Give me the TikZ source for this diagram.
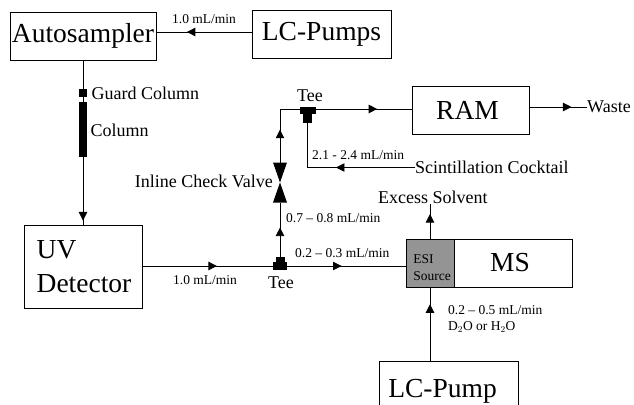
\documentclass[tikz,border=0pt]{standalone}
\usepackage{fontspec}
\setmainfont{Liberation Serif}
\usepackage{tikz}
\usetikzlibrary{positioning,arrows.meta,decorations.markings,shapes.geometric}

\begin{document}
\begin{tikzpicture}[
  x=1pt, y=-1pt,
  box/.style={draw, rectangle, inner sep=0pt, line width=0.9pt, font=\fontsize{27.5}{33.5}\selectfont},
  lab/.style={inner sep=0pt, anchor=west, font=\fontsize{18}{20}\selectfont},
  rate/.style={inner sep=0pt, anchor=west, font=\fontsize{13.5}{16}\selectfont},
  solid part/.style={fill=black, draw=none, inner sep=0pt, outer sep=0pt},
  valve/.style={isosceles triangle, isosceles triangle stretches, fill=black, draw=none, inner sep=0pt, outer sep=0pt, minimum width=14pt, minimum height=20pt},
  line/.style={line width=0.8pt},
  arr/.style={line width=0.8pt, postaction={decorate, decoration={markings, mark=at position #1 with {\arrow{Triangle[length=8.5pt,width=8.5pt]}}}}}
]
\useasboundingbox (0,0) rectangle (634,404);
\node[box, minimum width=146pt, minimum height=48pt] (auto) at (83,36) {Autosampler};
\node[box, minimum width=139pt, minimum height=48pt] (pumps) at (321.5,34) {LC-Pumps};
\node[box, minimum width=117pt, minimum height=48pt] (ram) at (470.5,110) {\hspace*{-6pt}RAM};
\node[box, minimum width=118pt, minimum height=83pt, align=left] (det) at (83,266.5) {\hspace*{2pt}UV\\\hspace*{2pt}Detector};
\node[box, minimum width=118pt, minimum height=48pt] (ms) at (513,263) {\hspace*{-6pt}\raisebox{-3pt}{MS}};
\node[draw, fill=black!42, line width=0.9pt, inner sep=0pt, minimum width=48pt, minimum height=48pt] (esi) at (430,263) {};
\node[inner sep=0pt, align=left, font=\fontsize{13.5}{17}\selectfont] (esitxt) at (432,268) {ESI\\Source};
\node[box, minimum width=139pt, minimum height=60pt] (pump) at (448.5,391) {\hspace*{-12pt}\raisebox{2pt}{LC-Pump}};
% column parts
\node[solid part, minimum width=8pt, minimum height=8pt] (guard) at (83,93) {};
\node[solid part, minimum width=8pt, minimum height=55pt] (col) at (83,129.5) {};
% upper tee
\node[solid part, minimum width=16pt, minimum height=7pt] (teeup) at (308,110.5) {};
\node[solid part, minimum width=9pt, minimum height=9pt] (teeupstem) at (307.5,118.5) {};
% lower tee
\node[solid part, minimum width=14pt, minimum height=8pt] (teelow) at (280,266) {};
\node[solid part, minimum width=9pt, minimum height=5pt] (teelowstem) at (280,259.5) {};
% check valve
\node[valve, shape border rotate=-90, anchor=apex] (valvetop) at (280,182.5) {};
\node[valve, shape border rotate=90, anchor=apex] (valvelow) at (280,182.5) {};
\node[lab] (waste) at (587,107) {Waste};
\node[lab] (scint) at (415,167.5) {Scintillation Cocktail};
\node[lab] (excess) at (378,197) {Excess Solvent};
\coordinate (cornerup) at (280,109);

\draw[arr=0.68] (pumps.west |- 0,32) -- (auto.east |- 0,32);
\draw[line] (auto.south -| guard) -- (guard);
\draw[line] (guard) -- (col);
\draw[arr=0.94] (col.south) -- (col.south |- det.north);
\draw[arr=0.57] (det.east |- teelow) -- (teelow.west);
\draw[arr=0.46] (teelow.east |- 0,266) -- (esi.west |- 0,266);
\draw[arr=0.54] (teelowstem.north) -- (valvelow.south);
\draw[line] (valvetop.apex) -- (valvelow.apex);
\draw[arr=0.446] (valvetop.north) -- (cornerup) -- (teeup.west |- cornerup);
\draw[arr=0.64] (teeup.east |- cornerup) -- (cornerup -| ram.west);
\draw[arr=0.52] (scint.west) -| (teeupstem.south);
\draw[arr=0.73] (ram.east |- waste) -- (waste.west);
\draw[arr=0.7] (esi.north) -- (esi.north |- excess.south);
\draw[arr=0.77] (esi.south |- pump.north) -- (esi.south);

\node[rate] (ratea) at (172,19) {1.0 mL/min};
\node[lab] (guardtxt) at (91.5,93) {Guard Column};
\node[lab] (coltxt) at (90.5,130) {Column};
\node[lab, anchor=center] (teeuptxt) at (310,96) {Tee};
\node[rate] (rateb) at (312,155) {2.1 - 2.4 mL/min};
\node[lab, anchor=east] (valvetxt) at (273,181) {Inline Check Valve};
\node[rate] (ratec) at (286,218) {0.7 -- 0.8 mL/min};
\node[rate] (rated) at (295,253) {0.2 -- 0.3 mL/min};
\node[rate] (ratee) at (173,280) {1.0 mL/min};
\node[lab, anchor=center] (teelowtxt) at (281,283) {Tee};
\node[rate] (ratef) at (448,310) {0.2 -- 0.5 mL/min};
\node[rate] (rateg) at (448,327) {D$_2$O or H$_2$O};
\end{tikzpicture}
\end{document}
